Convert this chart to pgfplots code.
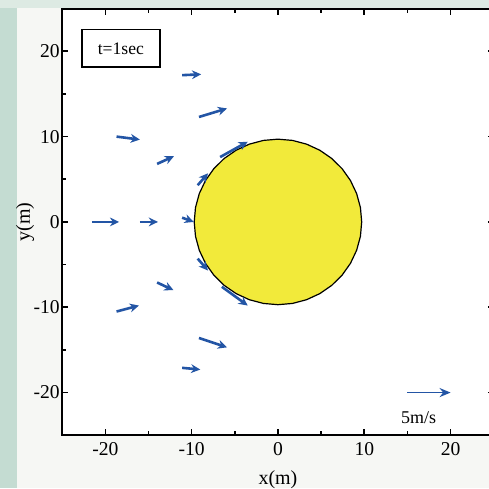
\documentclass[border=0pt]{standalone}
\usepackage{pgfplots}
\pgfplotsset{compat=1.18}
\usepackage{fontspec}
\setmainfont{Liberation Serif}
\usetikzlibrary{arrows.meta}
\definecolor{arrowblue}{RGB}{35,85,165}
\definecolor{ballyellow}{RGB}{242,234,58}
\definecolor{scanbg}{RGB}{246,247,244}
\definecolor{scanteal}{RGB}{196,220,210}

\pgfplotstableread{
x y u v
-11.1 17.2 2.2 0.1
-9.15 12.3 3.25 1.0
-18.7 10.0 2.7 -0.35
-14.0 6.8 1.95 0.9
-6.7 7.6 3.2 1.8
-9.3 4.3 1.2 1.4
-21.55 0 3.15 0
-16.0 0 2.1 0
-11.1 0.5 1.35 -0.5
-9.3 -4.3 1.2 -1.4
-6.5 -7.6 3.0 -2.2
-14.0 -7.1 1.9 -0.9
-18.7 -10.5 2.6 0.7
-9.15 -13.6 3.25 -1.1
-11.1 -17.1 2.1 -0.2
}\flowtable

\pgfplotstableread{
x y u v
15 -20 5 0
}\reftable

\begin{document}
\begin{tikzpicture}
\useasboundingbox (-31.1pt,-26.5pt) rectangle (213.6pt,217.8pt);
\fill[scanbg] (-31.1pt,-26.5pt) rectangle (213.6pt,217.8pt);
\fill[scanteal] (-31.1pt,-26.5pt) rectangle (-22.5pt,217.8pt);
\fill[scanteal!50!scanbg] (-31.1pt,213.9pt) rectangle (213.6pt,217.8pt);
\begin{axis}[
  at={(0pt,0pt)}, anchor=south west,
  scale only axis, width=216pt, height=213.5pt,
  xmin=-25, xmax=25, ymin=-25, ymax=25,
  xtick={-20,-10,0,10,20}, xticklabels={-20,-10,0,10,20},
  ytick={-20,-10,0,10,20}, yticklabels={-20,-10,0,10,20},
  minor tick num=1,
  tick align=inside,
  major tick length=3pt, minor tick length=2pt,
  every tick/.style={black, line width=0.8pt},
  axis line style={line width=1pt},
  axis background/.style={fill=white},
  tick label style={font=\fontsize{9.8}{11}\selectfont},
  yticklabel style={inner xsep=1pt},
  xlabel={x(m)}, ylabel={y(m)},
  label style={font=\fontsize{10}{12}\selectfont},
  xlabel style={at={(axis description cs:0.5,-0.104)}, anchor=center},
  ylabel style={at={(axis description cs:-0.086,0.5)}, anchor=center, rotate=0},
  clip=false,
]
\addplot[draw=black, line width=0.6pt, fill=ballyellow] coordinates {
(9.700,0.000) (9.553,1.684) (9.115,3.318) (8.400,4.850) (7.431,6.235) (6.235,7.431)
(4.850,8.400) (3.318,9.115) (1.684,9.553) (0,9.7) (-1.684,9.553) (-3.318,9.115)
(-4.850,8.400) (-6.235,7.431) (-7.431,6.235) (-8.400,4.850) (-9.115,3.318) (-9.553,1.684)
(-9.700,0) (-9.553,-1.684) (-9.115,-3.318) (-8.400,-4.850) (-7.431,-6.235) (-6.235,-7.431)
(-4.850,-8.400) (-3.318,-9.115) (-1.684,-9.553) (0,-9.7) (1.684,-9.553) (3.318,-9.115)
(4.850,-8.400) (6.235,-7.431) (7.431,-6.235) (8.400,-4.850) (9.115,-3.318) (9.553,-1.684)
} -- cycle;
\addplot[arrowblue, line width=1.3pt, -{Stealth[length=4.6pt,width=4.4pt]},
  quiver={u=\thisrow{u}, v=\thisrow{v}}] table[x=x,y=y] {\flowtable};
\addplot[arrowblue, line width=0.9pt, -{Stealth[length=5.5pt,width=4.5pt]},
  quiver={u=\thisrow{u}, v=\thisrow{v}}] table[x=x,y=y] {\reftable};
\node[draw, line width=0.8pt, fill=white, minimum width=39pt, minimum height=19pt,
  font=\fontsize{8.8}{10}\selectfont] at (axis cs:-18.2,20.35) {t=1sec};
\node[font=\fontsize{9}{11}\selectfont] at (axis cs:16.3,-22.9) {5m/s};
\end{axis}
\end{tikzpicture}
\end{document}
